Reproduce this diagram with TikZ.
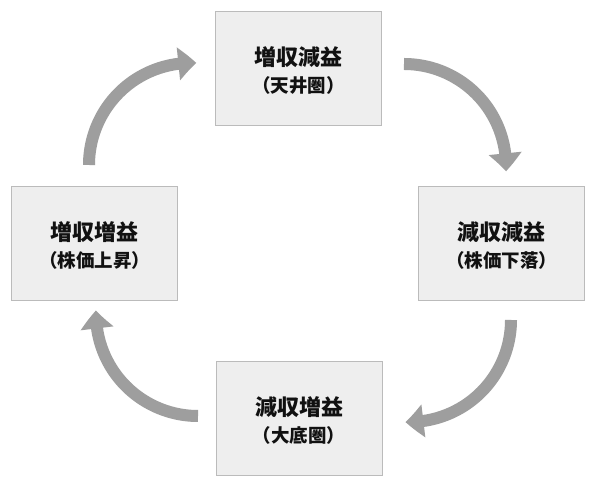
\documentclass[tikz,border=0pt]{standalone}
\usepackage{fontspec}
\newfontfamily\cjk{Noto Sans CJK JP}
\usetikzlibrary{arrows.meta,bending}
\definecolor{boxfill}{HTML}{EEEEEE}
\definecolor{boxline}{HTML}{BBBBBB}
\definecolor{arrowgray}{HTML}{9E9E9E}
\definecolor{txt}{HTML}{111111}
\begin{document}
\begin{tikzpicture}[x=1pt,y=1pt,
  box/.style={draw=boxline, fill=boxfill, line width=1pt, minimum width=166pt, minimum height=114pt, inner sep=0pt},
  lineone/.style={inner sep=0pt, text=txt, font=\cjk\bfseries\fontsize{22pt}{26pt}\selectfont},
  linetwo/.style={inner sep=0pt, text=txt, font=\cjk\bfseries\fontsize{18.5pt}{22pt}\selectfont},
  cyc/.style={draw=arrowgray, line width=12pt, -{Triangle[width=32pt,length=18pt,bend]}}]
\useasboundingbox (0,0) rectangle (600,489);
\fill[white] (0,0) rectangle (600,489);
% boxes
\node[box] (top) at (298.5,420) {};
\node[box] (left) at (94.5,245) {};
\node[box] (right) at (501.5,245) {};
\node[box] (bottom) at (299,70) {};
% labels
\node[lineone] (top1) at ([yshift=12pt]top.center) {増収減益};
\node[linetwo] (top2) at ([yshift=-16pt]top.center) {（天井圏）};
\node[lineone] (left1) at ([yshift=12pt]left.center) {増収増益};
\node[linetwo] (left2) at ([yshift=-16pt]left.center) {（株価上昇）};
\node[lineone] (right1) at ([yshift=12pt]right.center) {減収減益};
\node[linetwo] (right2) at ([yshift=-16pt]right.center) {（株価下落）};
\node[lineone] (bottom1) at ([yshift=12pt]bottom.center) {減収増益};
\node[linetwo] (bottom2) at ([yshift=-16pt]bottom.center) {（大底圏）};
% arrows
\coordinate (a1) at (404,425);
\coordinate (a2) at (89,324);
\coordinate (a3) at (511,169);
\coordinate (a4) at (198,73);
\draw[cyc] (a1) arc[start angle=90, end angle=-3, radius=102];
\draw[cyc] (a2) arc[start angle=180, end angle=87, radius=102];
\draw[cyc] (a3) arc[start angle=0, end angle=-92, radius=102];
\draw[cyc] (a4) arc[start angle=270, end angle=178, radius=102];
\end{tikzpicture}
\end{document}
